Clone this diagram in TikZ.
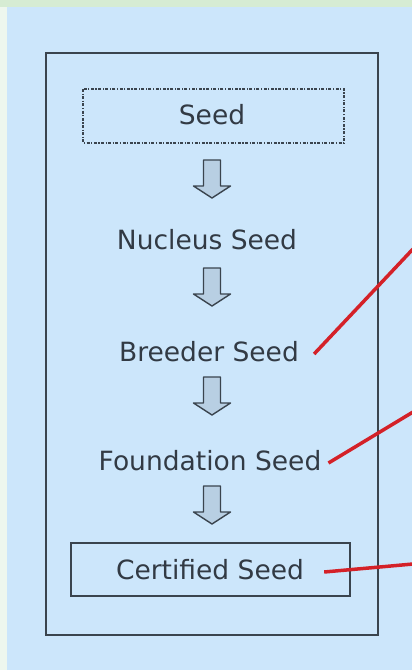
\documentclass[tikz,border=0pt]{standalone}
\usepackage{fontspec}
\setmainfont{DejaVu Sans}
\definecolor{bgblue}{HTML}{CCE6FB}
\definecolor{edgegreen}{HTML}{D6ECD3}
\definecolor{edgewhite}{HTML}{EEF7EE}
\definecolor{linegray}{HTML}{3A444E}
\definecolor{txtgray}{HTML}{323A44}
\definecolor{arrowfill}{HTML}{B8CFE3}
\definecolor{redline}{HTML}{D42128}
\tikzset{
  lbl/.style={font=\fontsize{26.5}{28}\selectfont, text=txtgray, inner sep=0pt},
  framebox/.style={draw=linegray, line width=1.8pt},
  redconn/.style={draw=redline, line width=3.5pt},
  pics/blockarrow/.style={code={
    \draw[linegray, line width=1.4pt, fill=arrowfill, line join=round]
      (-8.5,0) -- (8.5,0) -- (8.5,26) -- (18.5,26) -- (0,38) -- (-18.5,26) -- (-8.5,26) -- cycle;
  }}
}
\begin{document}
\begin{tikzpicture}[x=1pt,y=-1pt]
\useasboundingbox (0,0) rectangle (412,670);
\fill[edgegreen] (0,0) rectangle (412,670);
\fill[edgewhite] (0,7) rectangle (7,670);
\fill[bgblue] (7,7) rectangle (412,670);
% outer frame
\draw[framebox] (46,53) rectangle (378,635);
% items
\node[lbl] (seed) at (212,115) {Seed};
\draw[linegray, line width=1.5pt, dash pattern=on 3pt off 1.5pt on 1.2pt off 1.5pt] (83,89) rectangle (344,143);
\node[lbl] (nucleus) at (207,240) {Nucleus Seed};
\node[lbl] (breeder) at (209,352) {Breeder Seed};
\node[lbl] (foundation) at (210,461) {Foundation Seed};
\node[lbl] (certified) at (210,570) {Certified Seed};
\draw[framebox] (71,543) rectangle (350,596);
% block arrows
\pic at (212,160) {blockarrow};
\pic at (212,268) {blockarrow};
\pic at (212,377) {blockarrow};
\pic at (212,486) {blockarrow};
% red connectors
\coordinate (r1) at (413,249);
\coordinate (r2) at (413,412);
\coordinate (r3) at (413,564);
\draw[redconn] ([xshift=15pt,yshift=-2pt]breeder.east) -- (r1);
\draw[redconn] ([xshift=7pt,yshift=-2pt]foundation.east) -- (r2);
\draw[redconn] ([xshift=20pt,yshift=-2pt]certified.east) -- (r3);
\end{tikzpicture}
\end{document}
